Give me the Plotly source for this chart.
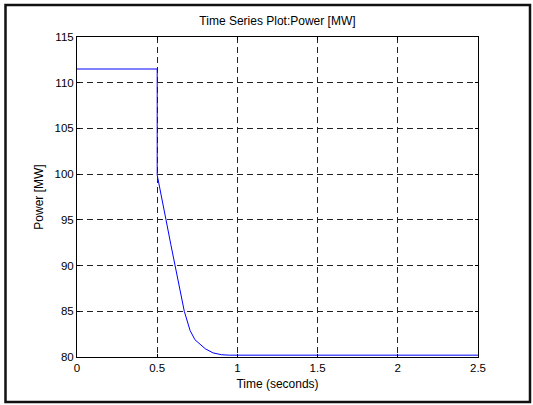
import plotly.graph_objects as go

# Data
time_s = [0, 0.5, 0.5, 0.506, 0.53, 0.555, 0.585, 0.611, 0.642, 0.669, 0.705,
          0.735, 0.767, 0.80, 0.848, 0.90, 0.95, 1.0, 2.5]
power_mw = [111.5, 111.5, 99.9, 99.4, 97.2, 95.0, 92.3, 90.0, 87.4, 85.0, 82.9,
            81.9, 81.4, 80.9, 80.45, 80.25, 80.2, 80.2, 80.2]

x_ticks = [0, 0.5, 1, 1.5, 2, 2.5]
x_tick_labels = ["0", "0.5", "1", "1.5", "2", "2.5"]
y_ticks = [80, 85, 90, 95, 100, 105, 110, 115]
y_tick_labels = [str(v) for v in y_ticks]

W, H = 533, 405
L, R, T, B = 77, 55, 37, 48
pw, ph = W - L - R, H - T - B

def px(x):
    return (x - L) / pw

def py(y):
    return (H - B - y) / ph

fig = go.Figure()
fig.add_trace(go.Scatter(x=time_s, y=power_mw, mode="lines",
                         line=dict(color="#0000ff", width=1), showlegend=False))

font = dict(family="Liberation Sans, Arial, sans-serif", size=12, color="black")
tfont = dict(family="Liberation Sans, Arial, sans-serif", size=11.5, color="black")

axis_common = dict(showline=True, linecolor="black", linewidth=1, mirror="ticks",
                   ticks="inside", ticklen=3, tickcolor="black",
                   showgrid=True, gridcolor="#222222", gridwidth=1, griddash="6px,4px",
                   zeroline=False, tickfont=tfont)

fig.update_layout(
    width=W, height=H,
    margin=dict(l=L, r=R, t=T, b=B),
    paper_bgcolor="white", plot_bgcolor="white",
    title=dict(text="Time Series Plot:Power [MW]", font=font,
               x=(L + pw / 2) / W, xanchor="center",
               y=1 - 21 / H, yanchor="middle"),
    xaxis=dict(range=[0, 2.5], tickvals=x_ticks, ticktext=x_tick_labels,
               title=dict(text="Time (seconds)", font=font, standoff=6),
               **axis_common),
    yaxis=dict(range=[80, 115], tickvals=y_ticks, ticktext=y_tick_labels,
               title=dict(text="Power [MW]", font=font, standoff=8),
               **axis_common),
    shapes=[dict(type="rect", xref="paper", yref="paper",
                 x0=px(5.5), x1=px(530), y0=py(402), y1=py(5),
                 line=dict(color="#111111", width=2.5), layer="below")],
)

fig.write_html("out.html", config={"displayModeBar": False},
               post_script="document.body.style.margin='0';document.body.style.padding='0';")
